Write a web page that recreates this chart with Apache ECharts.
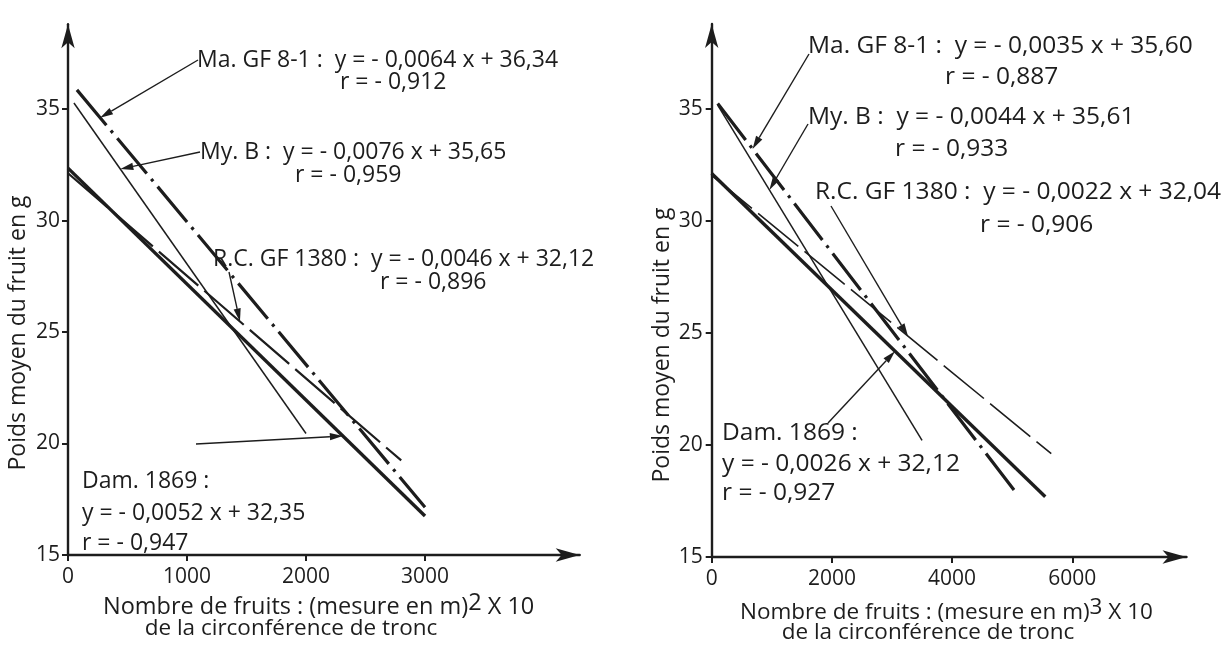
<!DOCTYPE html>
<html>
<head>
<meta charset="utf-8">
<script src="https://cdn.jsdelivr.net/npm/echarts@6/dist/echarts.min.js"></script>
<style>
  html, body { margin: 0; padding: 0; background: #ffffff; }
  #chart { width: 1230px; height: 647px; }
</style>
</head>
<body>
<div id="chart"></div>
<script>
// Cultivars, in the order of the annotations
const cultivars = ['Ma. GF 8-1', 'My. B', 'R.C. GF 1380', 'Dam. 1869'];

// Left panel: fruit count against (trunk circumference)^2 x 10
const slopeSq = [-0.0064, -0.0076, -0.0046, -0.0052];
const interceptSq = [36.34, 35.65, 32.12, 32.35];
const corrSq = [-0.912, -0.959, -0.896, -0.947];
const fromSq = [75, 50, 0, 0];
const toSq = [3000, 2000, 2800, 3000];
const pointerSq = [270, 440, 1445, 2310];   // x where each pointer touches its line

// Right panel: fruit count against (trunk circumference)^3 x 10
const slopeCu = [-0.0035, -0.0044, -0.0022, -0.0026];
const interceptCu = [35.60, 35.61, 32.04, 32.12];
const corrCu = [-0.887, -0.933, -0.906, -0.927];
const fromCu = [100, 100, 0, 0];
const toCu = [5070, 3500, 5650, 5550];
const pointerCu = [680, 960, 3266, 3050];

const xTicksSq = [0, 1000, 2000, 3000];
const xTicksCu = [0, 2000, 4000, 6000];
const yTicks = [15, 20, 25, 30, 35];

const yTitle = 'Poids moyen du fruit en g';
const xTitleMain = 'Nombre de fruits : (mesure en m)';
const xTitleTail = ' X 10';
const xTitleSub = 'de la circonférence de tronc';

const INK = '#1d1d1d';
const FONT = '"Open Sans", Lato, "DejaVu Sans", sans-serif';

const chart = echarts.init(document.getElementById('chart'), null, { renderer: 'canvas' });

// line style per cultivar: dash-dot heavy, thin solid, long dashes, heavy solid
function styleFor(i, panel) {
  if (i === 0) return { width: 3.2, type: [46, 7, 3, 7] };
  if (i === 1) return { width: 1.5, type: 'solid' };
  if (i === 2) return { width: panel === 0 ? 2.2 : 1.6, type: [52, 8] };
  return { width: 3.4, type: 'solid' };
}

function fitLines(slopes, intercepts, from, to, panel) {
  return cultivars.map((name, i) => ({
    name: name,
    type: 'line',
    xAxisIndex: panel,
    yAxisIndex: panel,
    data: [
      [from[i], slopes[i] * from[i] + intercepts[i]],
      [to[i], slopes[i] * to[i] + intercepts[i]]
    ],
    symbol: 'none',
    showSymbol: false,
    silent: true,
    animation: false,
    z: 3,
    lineStyle: Object.assign({ color: INK, cap: 'butt' }, styleFor(i, panel))
  }));
}

const plain = v => String(v);

function makeXAxis(grid, max, ticks) {
  return {
    type: 'value', gridIndex: grid, min: 0, max: max,
    axisLine: { show: true, onZero: false, lineStyle: { color: INK, width: 2.4 },
      symbol: ['none', 'arrow'], symbolSize: [10, 24] },
    axisTick: { show: true, customValues: ticks, length: 6, lineStyle: { color: INK, width: 2 } },
    axisLabel: { customValues: ticks, formatter: plain, margin: 12, color: INK, fontFamily: FONT, fontSize: 21 },
    splitLine: { show: false }
  };
}

function makeYAxis(grid, margin) {
  return {
    type: 'value', gridIndex: grid, min: 15, max: 38.8,
    axisLine: { show: true, onZero: false, lineStyle: { color: INK, width: 2.4 },
      symbol: ['none', 'arrow'], symbolSize: [10, 24] },
    axisTick: { show: true, customValues: yTicks, length: 6, lineStyle: { color: INK, width: 2 } },
    axisLabel: { customValues: yTicks, formatter: plain, margin: margin, color: INK, fontFamily: FONT, fontSize: 21 },
    splitLine: { show: false }
  };
}

chart.setOption({
  backgroundColor: '#ffffff',
  animation: false,
  grid: [
    { left: 68, top: 24.3, width: 511.7, height: 530.7 },
    { left: 711.7, top: 23.9, width: 474.8, height: 533.1 }
  ],
  xAxis: [makeXAxis(0, 4300, xTicksSq), makeXAxis(1, 7900, xTicksCu)],
  yAxis: [makeYAxis(0, 8), makeYAxis(1, 9)],
  series: fitLines(slopeSq, interceptSq, fromSq, toSq, 0)
    .concat(fitLines(slopeCu, interceptCu, fromCu, toCu, 1))
});

// ---- annotations ----
const fmt = (v, d) => Math.abs(v).toFixed(d).replace('.', ',');
const eqText = (a, b) => 'y = - ' + fmt(a, 4) + ' x + ' + fmt(b, 2);
const rText = r => 'r = - ' + fmt(r, 3);

function text(x, y, str, size, extra) {
  return {
    type: 'text', x: x, y: y, silent: true, z: 10,
    style: Object.assign({ text: str, fill: INK, font: size + 'px ' + FONT,
      textAlign: 'left', textVerticalAlign: 'middle' }, extra || {})
  };
}

function pointer(tail, tip) {
  const dx = tip[0] - tail[0], dy = tip[1] - tail[1];
  const len = Math.sqrt(dx * dx + dy * dy);
  const ux = dx / len, uy = dy / len;
  const L = 13, W = 3.6;
  const bx = tip[0] - ux * L, by = tip[1] - uy * L;
  return [
    { type: 'line', silent: true, z: 9,
      shape: { x1: tail[0], y1: tail[1], x2: bx, y2: by },
      style: { stroke: INK, lineWidth: 1.4 } },
    { type: 'polygon', silent: true, z: 9,
      shape: { points: [[tip[0], tip[1]], [bx - uy * W, by + ux * W], [bx + uy * W, by - ux * W]] },
      style: { fill: INK } }
  ];
}

// text anchors (left edge, vertical middle) and type size for each panel
const layoutSq = {
  size: 23,
  head: [[197, 60], [200, 152], [213, 259]],
  r: [[340, 82], [295, 175], [380, 282]],
  dam: [[82, 481], [82, 513], [82, 543]],
  tails: [[198, 60], [200, 152], [229, 272], [196, 444]]
};
const layoutCu = {
  size: 24.5,
  head: [[808, 46], [808, 117], [815, 192]],
  r: [[945, 77], [895, 149], [980, 225]],
  dam: [[722, 433], [722, 464], [722, 493]],
  tails: [[809, 54], [808, 124], [831, 206], [828, 423]]
};

function panelGraphics(panel, slopes, intercepts, corr, pointers, lay) {
  const g = [];
  const s = lay.size;
  for (let i = 0; i < 3; i++) {
    g.push(text(lay.head[i][0], lay.head[i][1], cultivars[i] + ' :  ' + eqText(slopes[i], intercepts[i]), s));
    g.push(text(lay.r[i][0], lay.r[i][1], rText(corr[i]), s));
  }
  g.push(text(lay.dam[0][0], lay.dam[0][1], cultivars[3] + ' :', s));
  g.push(text(lay.dam[1][0], lay.dam[1][1], eqText(slopes[3], intercepts[3]), s));
  g.push(text(lay.dam[2][0], lay.dam[2][1], rText(corr[3]), s));
  for (let i = 0; i < 4; i++) {
    const x = pointers[i];
    const tip = chart.convertToPixel({ xAxisIndex: panel, yAxisIndex: panel }, [x, slopes[i] * x + intercepts[i]]);
    g.push.apply(g, pointer(lay.tails[i], tip));
  }
  return g;
}

function axisTitles(sup, size1, vx, vy, line1x, line1y, line2x, line2y) {
  const vertical = text(vx, vy, yTitle, 23, { textAlign: 'center' });
  vertical.rotation = Math.PI / 2;
  return [
    vertical,
    {
      type: 'text', x: line1x, y: line1y, silent: true, z: 10,
      style: {
        text: '{a|' + xTitleMain + '}{s|' + sup + '}{a|' + xTitleTail + '}',
        textAlign: 'left', textVerticalAlign: 'middle',
        rich: {
          a: { fill: INK, font: size1 + 'px ' + FONT, verticalAlign: 'bottom', lineHeight: 28 },
          s: { fill: INK, font: size1 + 'px ' + FONT, verticalAlign: 'top', lineHeight: 28, padding: [0, 0, 7, 0] }
        }
      }
    },
    text(line2x, line2y, xTitleSub, 22.5, { textAlign: 'center' })
  ];
}

chart.setOption({
  graphic: panelGraphics(0, slopeSq, interceptSq, corrSq, pointerSq, layoutSq)
    .concat(panelGraphics(1, slopeCu, interceptCu, corrCu, pointerCu, layoutCu))
    .concat(axisTitles('2', 23.5, 18, 333, 103, 605, 291, 629))
    .concat(axisTitles('3', 22.5, 662, 345, 740, 610, 928, 633))
});
</script>
</body>
</html>
